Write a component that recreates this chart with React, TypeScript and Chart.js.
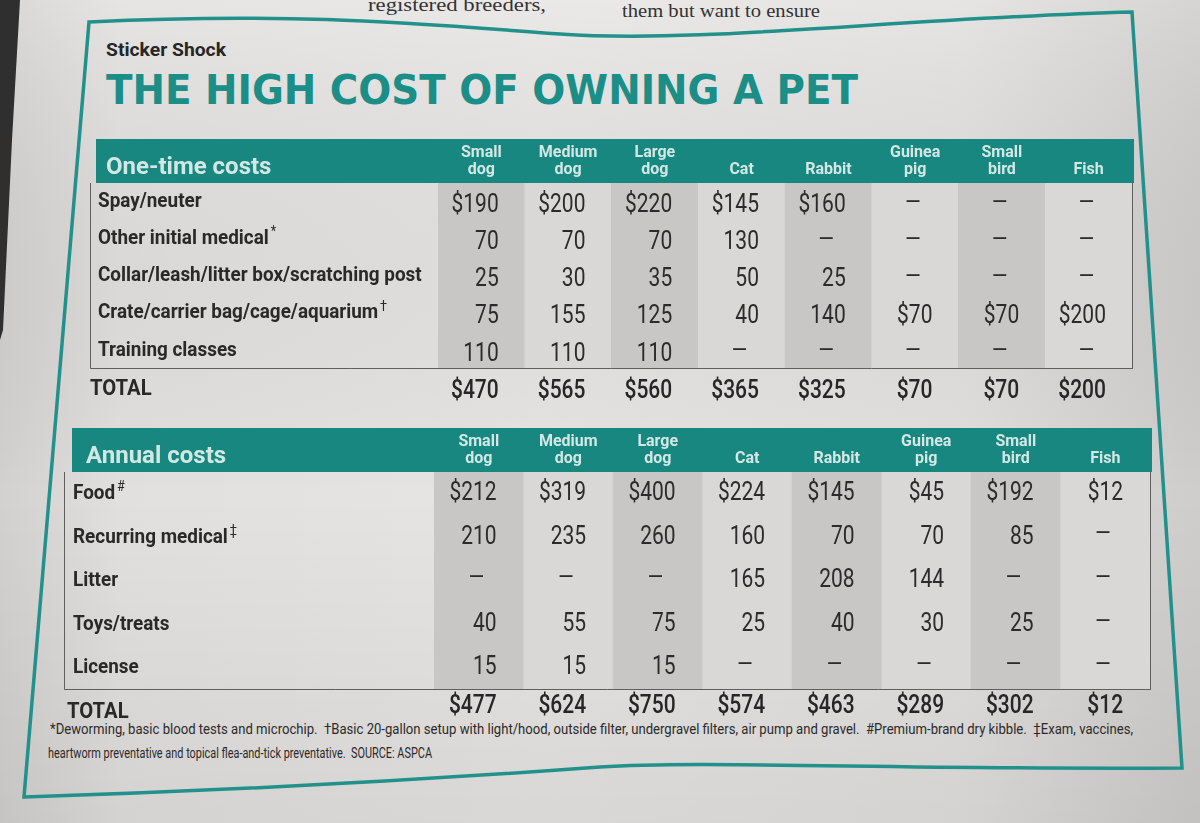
import React, { useEffect, useRef } from 'react';
import { Chart, registerables } from 'chart.js';

Chart.register(...registerables);

// ---------- DATA ----------
const petColumns: (string | string[])[] = [
  ['Small', 'dog'], ['Medium', 'dog'], ['Large', 'dog'], 'Cat', 'Rabbit', ['Guinea', 'pig'], ['Small', 'bird'], 'Fish',
];

const oneTimeRows = [
  'Spay/neuter',
  'Other initial medical',
  'Collar/leash/litter box/scratching post',
  'Crate/carrier bag/cage/aquarium',
  'Training classes',
];
const oneTimeMarks = ['', '*', '', '†', ''];
const spayNeuter = [190, 200, 220, 145, 160, null, null, null];
const otherInitialMedical = [70, 70, 70, 130, null, null, null, null];
const collarLeash = [25, 30, 35, 50, 25, null, null, null];
const crateCage = [75, 155, 125, 40, 140, 70, 70, 200];
const trainingClasses = [110, 110, 110, null, null, null, null, null];
const oneTimeTotal = [470, 565, 560, 365, 325, 70, 70, 200];

const annualRows = ['Food', 'Recurring medical', 'Litter', 'Toys/treats', 'License'];
const annualMarks = ['#', '‡', '', '', ''];
const food = [212, 319, 400, 224, 145, 45, 192, 12];
const recurringMedical = [210, 235, 260, 160, 70, 70, 85, null];
const litter = [null, null, null, 165, 208, 144, null, null];
const toysTreats = [40, 55, 75, 25, 40, 30, 25, null];
const license = [15, 15, 15, null, null, null, null, null];
const annualTotal = [477, 624, 750, 574, 463, 289, 302, 12];

const footnoteLine1 =
  '*Deworming, basic blood tests and microchip.  †Basic 20-gallon setup with light/hood, outside filter, undergravel filters, air pump and gravel.  #Premium-brand dry kibble.  ‡Exam, vaccines,';
const footnoteLine2 = 'heartworm preventative and topical flea-and-tick preventative.  SOURCE: ASPCA';

// ---------- STYLE ----------
const TEAL = '#17877f';
const HEADER_TEXT = '#d3e8e5';
const INK = '#2a2927';
const COL_DARK = '#c8c7c5';
const COL_LIGHT = '#d9d8d6';
const RULE = '#5f5f5f';
const FONT = 'Roboto';

type TableProps = {
  heading: string;
  rows: string[];
  marks: string[];
  values: (number | null)[][];
  totals: number[];
  left: number;
  top: number;
  width: number;
  bandH: number;
  bodyH: number;
  totalH: number;
  labelW: number;
  rightPad: number;
  bandX: number;
  bodyX: number;
  headingX: number;
  labelX: number;
  totalX: number;
  valueDy: number;
  totalLabelDy: number;
  totalValueDy: number;
};

function CostTable(p: TableProps) {
  const ref = useRef<HTMLCanvasElement>(null);
  const height = p.bandH + p.bodyH + p.totalH;

  useEffect(() => {
    const canvas = ref.current!;
    const nRows = p.rows.length;
    const nCols = petColumns.length;
    const firstRow: number[] = [];
    for (let c = 0; c < nCols; c++) {
      let f = -1;
      for (let r = 0; r < nRows; r++) {
        if (p.values[r][c] != null) { f = r; break; }
      }
      firstRow.push(f);
    }

    const drawScaled = (ctx: CanvasRenderingContext2D, text: string, x: number, y: number, sx: number, align: CanvasTextAlign) => {
      ctx.save();
      ctx.translate(x, y);
      ctx.scale(sx, 1);
      ctx.textAlign = align;
      ctx.fillText(text, 0, 0);
      ctx.restore();
    };

    const plugin = {
      id: 'costTable',
      beforeDraw(chart: any) {
        const { ctx, chartArea } = chart;
        const xs = chart.scales.x;
        ctx.save();
        ctx.fillStyle = TEAL;
        ctx.fillRect(p.bandX, xs.top, chart.width - p.bandX, chartArea.top - xs.top);
        ctx.restore();
      },
      afterDraw(chart: any) {
        const { ctx, chartArea } = chart;
        const xs = chart.scales.x;
        const ys = chart.scales.y;
        const colW = (chartArea.right - chartArea.left) / nCols;
        ctx.save();
        // body box
        ctx.strokeStyle = RULE;
        ctx.lineWidth = 1;
        ctx.beginPath();
        ctx.moveTo(p.bodyX + 0.5, chartArea.top);
        ctx.lineTo(p.bodyX + 0.5, chartArea.bottom - 0.5);
        ctx.lineTo(chartArea.right, chartArea.bottom - 0.5);
        ctx.stroke();

        // heading in band
        ctx.fillStyle = HEADER_TEXT;
        ctx.font = `700 24px ${FONT}`;
        ctx.textBaseline = 'alphabetic';
        ctx.textAlign = 'left';
        ctx.fillText(p.heading, p.headingX, chartArea.top - 9);

        // row labels
        ctx.fillStyle = INK;
        ctx.textBaseline = 'middle';
        p.rows.forEach((lab, r) => {
          const y = ys.getPixelForValue(r);
          ctx.save();
          ctx.translate(p.labelX, y);
          ctx.scale(0.9, 1);
          ctx.font = `700 21px ${FONT}`;
          ctx.textAlign = 'left';
          ctx.fillText(lab, 0, 0);
          if (p.marks[r]) {
            const w = ctx.measureText(lab).width;
            ctx.font = `400 14px ${FONT}`;
            ctx.fillText(p.marks[r], w + 2, -6);
          }
          ctx.restore();
        });

        // cell values
        ctx.fillStyle = '#2b2b2b';
        p.values.forEach((rowVals, r) => {
          rowVals.forEach((v, c) => {
            const cx = xs.getPixelForValue(c);
            const y = ys.getPixelForValue(r) + p.valueDy;
            if (v == null) {
              ctx.font = `400 24px ${FONT}`;
              drawScaled(ctx, '–', cx - 2, y - 2, 1.1, 'center');
            } else {
              ctx.font = `400 25px ${FONT}`;
              const txt = (firstRow[c] === r ? '$' : '') + String(v);
              drawScaled(ctx, txt, cx + colW * 0.2, y, 0.84, 'right');
            }
          });
        });

        // total row
        const ty = ys.getPixelForValue(nRows);
        ctx.fillStyle = INK;
        ctx.font = `700 22px ${FONT}`;
        drawScaled(ctx, 'TOTAL', p.totalX, ty + p.totalLabelDy, 0.92, 'left');
        ctx.fillStyle = '#262626';
        ctx.font = `500 25px ${FONT}`;
        p.totals.forEach((t, c) => {
          const cx = xs.getPixelForValue(c);
          drawScaled(ctx, '$' + t, cx + colW * 0.2, ty + p.totalValueDy, 0.84, 'right');
        });
        ctx.restore();
      },
    };

    const chart = new Chart(canvas, {
      type: 'bar',
      data: {
        labels: petColumns as any,
        datasets: [
          {
            data: petColumns.map(() => [-0.5, nRows - 0.5]) as any,
            backgroundColor: petColumns.map((_, i) => (i % 2 === 0 ? COL_DARK : COL_LIGHT)),
            borderWidth: 0,
            barPercentage: 1,
            categoryPercentage: 1,
          },
        ],
      },
      options: {
        animation: false,
        responsive: false,
        events: [],
        layout: { padding: { left: p.labelW, right: p.rightPad, top: 0, bottom: p.totalH } },
        plugins: {
          legend: { display: false },
          tooltip: { enabled: false },
          title: { display: false },
        },
        scales: {
          x: {
            type: 'category',
            position: 'top',
            offset: true,
            z: 1,
            grid: { offset: true, color: RULE, lineWidth: 1, drawTicks: false },
            border: { display: false },
            ticks: {
              color: HEADER_TEXT,
              font: { family: FONT, weight: 'bold', size: 16, lineHeight: 1.05 },
              padding: 5,
              autoSkip: false,
              maxRotation: 0,
              minRotation: 0,
            },
            afterFit: (s: any) => {
              s.height = p.bandH;
            },
          },
          y: {
            type: 'linear',
            min: -0.5,
            max: nRows - 0.5,
            reverse: true,
            display: false,
          },
        },
      } as any,
      plugins: [plugin],
    });
    return () => chart.destroy();
  }, []);

  return (
    <canvas
      ref={ref}
      width={p.width}
      height={height}
      style={{ position: 'absolute', left: p.left, top: p.top, width: p.width, height }}
    />
  );
}

export default function App() {
  return (
    <div
      style={{
        position: 'fixed',
        left: 0,
        top: 0,
        width: 1200,
        height: 823,
        overflow: 'hidden',
        background:
          'linear-gradient(90deg, #d3d1cf 0%, #e2e0de 10%, #e7e5e3 45%, #e2e0de 80%, #cfcdcb 100%)',
      }}
    >
      <svg width={1200} height={823} style={{ position: 'absolute', left: 0, top: 0 }}>
        <defs>
          <linearGradient id="shade" x1="0" y1="0" x2="0" y2="1">
            <stop offset="0" stopColor="#ffffff" stopOpacity="0.15" />
            <stop offset="0.6" stopColor="#000000" stopOpacity="0" />
            <stop offset="1" stopColor="#000000" stopOpacity="0.06" />
          </linearGradient>
        </defs>
        <rect x={0} y={0} width={1200} height={823} fill="url(#shade)" />
        <polygon points="0,0 20,0 12,140 3,330 0,340" fill="#2f2f2f" />
        <text x={368} y={11} fontFamily="Liberation Serif" fontSize={18} fill="#333" textLength={178} lengthAdjust="spacingAndGlyphs">
          registered breeders,
        </text>
        <text x={622} y={17} fontFamily="Liberation Serif" fontSize={18} fill="#333" textLength={198} lengthAdjust="spacingAndGlyphs">
          them but want to ensure
        </text>
        <path
          d="M 89 22 C 300 12, 420 24, 560 34 C 700 44, 900 18, 1132 12 L 1182 768 C 900 770, 700 760, 600 767 C 450 778, 250 790, 24 797 Z"
          fill="none"
          stroke="#22918b"
          strokeWidth={3.5}
        />
        <text x={106} y={56} fontFamily="Roboto" fontWeight={700} fontSize={18} fill="#262626" textLength={120} lengthAdjust="spacingAndGlyphs">
          Sticker Shock
        </text>
        <text x={106} y={104} fontFamily="DejaVu Sans" fontWeight={700} fontSize={41} fill="#1b8e88" textLength={752} lengthAdjust="spacingAndGlyphs">
          THE HIGH COST OF OWNING A PET
        </text>
        <text x={50} y={734} fontFamily="Roboto" fontSize={15} fill="#2a2a2a" textLength={1083} lengthAdjust="spacingAndGlyphs" style={{ whiteSpace: 'pre' }}>
          {footnoteLine1}
        </text>
        <text x={48} y={758} fontFamily="Roboto" fontSize={15} fill="#2a2a2a" textLength={384} lengthAdjust="spacingAndGlyphs" style={{ whiteSpace: 'pre' }}>
          {footnoteLine2}
        </text>
      </svg>
      <CostTable
        heading="One-time costs"
        rows={oneTimeRows}
        marks={oneTimeMarks}
        values={[spayNeuter, otherInitialMedical, collarLeash, crateCage, trainingClasses]}
        totals={oneTimeTotal}
        left={88}
        top={139}
        width={1046}
        bandH={44}
        bodyH={186}
        totalH={44}
        labelW={350}
        rightPad={2}
        bandX={8}
        bodyX={2}
        headingX={18}
        labelX={10}
        totalX={2}
        valueDy={4}
        totalLabelDy={2}
        totalValueDy={4}
      />
      <CostTable
        heading="Annual costs"
        rows={annualRows}
        marks={annualMarks}
        values={[food, recurringMedical, litter, toysTreats, license]}
        totals={annualTotal}
        left={62}
        top={428}
        width={1090}
        bandH={44}
        bodyH={218}
        totalH={46}
        labelW={372}
        rightPad={2}
        bandX={10}
        bodyX={2}
        headingX={24}
        labelX={11}
        totalX={5}
        valueDy={0}
        totalLabelDy={1}
        totalValueDy={-5}
      />
    </div>
  );
}
